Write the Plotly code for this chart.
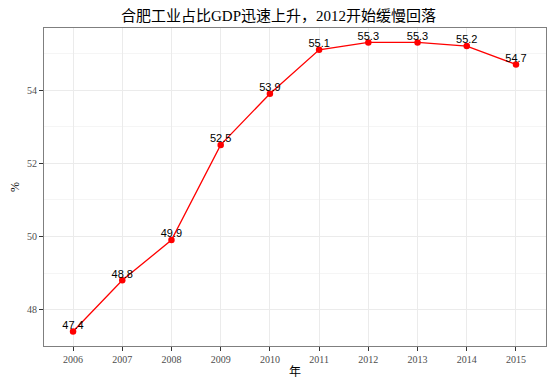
import plotly.graph_objects as go

years = [2006, 2007, 2008, 2009, 2010, 2011, 2012, 2013, 2014, 2015]
share = [47.4, 48.8, 49.9, 52.5, 53.9, 55.1, 55.3, 55.3, 55.2, 54.7]
labels = [f"{v:.1f}" for v in share]
title = "合肥工业占比GDP迅速上升，2012开始缓慢回落"
x_title = "年"
y_title = "%"

serif = "Liberation Serif, Noto Sans CJK SC, serif"

fig = go.Figure()
fig.add_trace(go.Scatter(
    x=years, y=share, mode="lines+markers",
    line=dict(color="#ff0000", width=1.3),
    marker=dict(color="#ff0000", size=6.5),
    hoverinfo="skip", showlegend=False,
))
fig.add_trace(go.Scatter(
    x=years, y=share, mode="text", text=labels,
    textposition="top center",
    textfont=dict(family="Liberation Sans, Arial, sans-serif", size=11, color="black"),
    hoverinfo="skip", showlegend=False,
))

# page body has an 8px margin, so the figure is sized/offset to compensate
fig.update_layout(
    width=547, height=380,
    margin=dict(l=36, r=9, t=20, b=42),
    paper_bgcolor="white", plot_bgcolor="white",
    title=dict(text=title, x=0.4945, xanchor="center", y=0.98, yanchor="middle",
               font=dict(family=serif, size=15, color="black")),
    xaxis=dict(
        range=[2005.41, 2015.61], tickmode="array", tickvals=years,
        ticktext=[str(y) for y in years], automargin=False,
        showgrid=True, gridcolor="#ebebeb", gridwidth=1,
        ticks="outside", ticklen=4, tickcolor="#333333",
        tickfont=dict(family=serif, size=10, color="#4d4d4d"),
        showline=True, linecolor="#7f7f7f", linewidth=1, mirror=True,
        zeroline=False,
    ),
    yaxis=dict(
        range=[47.005, 55.695], tickmode="array", tickvals=[48, 50, 52, 54],
        automargin=False,
        showgrid=True, gridcolor="#ebebeb", gridwidth=1,
        minor=dict(tickvals=[47, 49, 51, 53, 55], showgrid=True, gridcolor="#f5f5f5", gridwidth=0.6, ticks=""),
        ticks="outside", ticklen=4, tickcolor="#333333",
        tickfont=dict(family=serif, size=10, color="#4d4d4d"),
        showline=True, linecolor="#7f7f7f", linewidth=1, mirror=True,
        zeroline=False,
    ),
    annotations=[
        dict(text=x_title, xref="paper", yref="paper", x=0.5, y=-0.082,
             xanchor="center", yanchor="middle", showarrow=False,
             font=dict(family=serif, size=12, color="black")),
        dict(text=y_title, xref="paper", yref="paper", x=-0.058, y=0.5,
             xanchor="center", yanchor="middle", showarrow=False, textangle=-90,
             font=dict(family=serif, size=12, color="black")),
    ],
)
fig.write_html("out.html")
